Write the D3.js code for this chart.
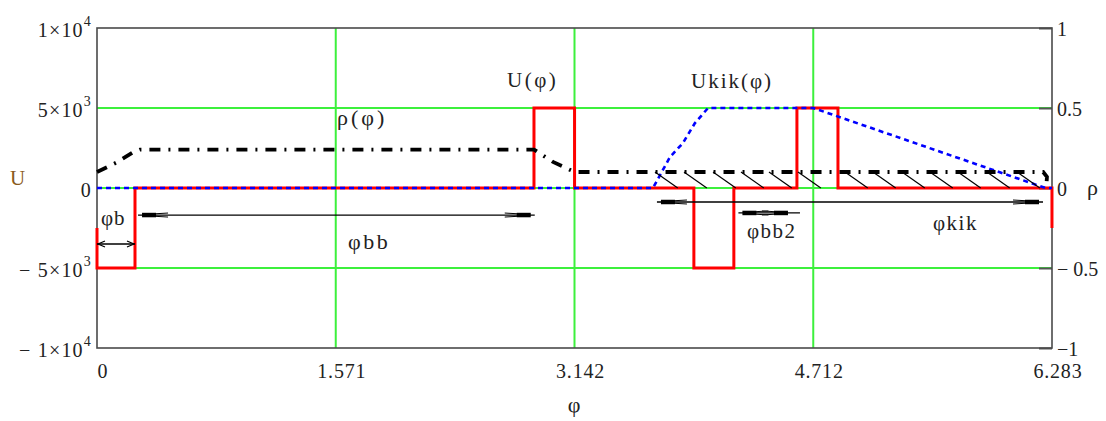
<!DOCTYPE html>
<html>
<head>
<meta charset="utf-8">
<script src="https://cdn.jsdelivr.net/npm/d3@7/dist/d3.min.js"></script>
<style>
  html, body { margin: 0; padding: 0; background: #fff; }
  svg { display: block; }
  text { font-family: "Liberation Serif", "Times New Roman", serif; fill: #222; }
</style>
</head>
<body>
<svg id="chart" width="1106" height="421"></svg>
<script>
// U(φ): stepped drive signal, left axis
const uPhi = [0, 0, 0.25, 0.25, 2.875, 2.875, 3.142, 3.142, 3.927, 3.927, 4.19, 4.19, 4.605, 4.605, 4.875, 4.875, 6.283, 6.283];
const uVal = [-2500, -5000, -5000, 0, 0, 5000, 5000, 0, 0, -5000, -5000, 0, 0, 5000, 5000, 0, 0, -2500];

// Ukik(φ): ramp profile, left axis
const ukikPhi = [0, 3.658, 3.77, 3.855, 3.934, 4.02, 4.712, 6.24, 6.283];
const ukikVal = [0, 0, 1940, 2810, 4060, 5000, 5000, 0, 0];

// ρ(φ): right axis
const rhoPhi = [0, 0.13, 0.237, 0.283, 2.875, 3.0, 3.142, 6.225, 6.25, 6.245];
const rhoVal = [0.1, 0.16, 0.223, 0.24, 0.24, 0.163, 0.1, 0.1, 0.07, 0.0];

// start angles of the hatch strokes under ρ on the kik interval
const hatchPhi = [3.671, 3.862, 4.053, 4.237, 4.421, 4.612, 4.921, 5.105, 5.296, 5.480, 5.664, 5.855, 6.053];

// annotated intervals
const spanNames = ["φb", "φbb", "φbb2", "φkik"];
const spanFrom = [0, 0.27, 4.22, 3.684];
const spanTo = [0.25, 2.88, 4.625, 6.224];

// axis ticks
const xTicks = [0, 1.571, 3.142, 4.712, 6.283];
const xTickLabels = ["0", "1.571", "3.142", "4.712", "6.283"];
const uTicks = [10000, 5000, 0, -5000, -10000];
const uTickMant = ["1×10", "5×10", "0", "− 5×10", "− 1×10"];
const uTickExp = ["4", "3", "", "3", "4"];
const rhoTicks = [1, 0.5, 0, -0.5, -1];
const rhoTickLabels = ["1", "0.5", "0", "− 0.5", "−1"];

const svg = d3.select("#chart");
const L = 97, R = 1052, T = 28, B = 348;

const x = d3.scaleLinear().domain([0, 2 * Math.PI]).range([L, R]);
const yU = d3.scaleLinear().domain([-10000, 10000]).range([B, T]);
const yR = d3.scaleLinear().domain([-1, 1]).range([B, T]);

const green = "#3cf03c";

// grid
const grid = svg.append("g");
grid.selectAll("line.gx").data([Math.PI / 2, Math.PI, 3 * Math.PI / 2]).join("line")
  .attr("x1", d => x(d)).attr("x2", d => x(d)).attr("y1", T).attr("y2", B)
  .attr("stroke", green).attr("stroke-width", 2);
grid.selectAll("line.gy").data([5000, 0, -5000]).join("line")
  .attr("x1", L).attr("x2", R).attr("y1", d => yU(d)).attr("y2", d => yU(d))
  .attr("stroke", green).attr("stroke-width", 2);

// bottom axis
const xAxis = svg.append("g").attr("transform", `translate(0,${B})`)
  .call(d3.axisBottom(x).tickValues(xTicks).tickSize(0).tickFormat((d, i) => xTickLabels[i]));
xAxis.select(".domain").remove();
xAxis.selectAll("text").attr("dy", null).attr("y", 30).attr("x", 5.5)
  .style("font-size", "20px").style("letter-spacing", "0.8px")
  .attr("font-family", null).attr("fill", "#222");

// left axis
const uAxis = svg.append("g").attr("transform", `translate(${L},0)`)
  .call(d3.axisLeft(yU).tickValues(uTicks).tickSize(0).tickFormat(() => ""));
uAxis.select(".domain").remove();
uAxis.selectAll(".tick text").each(function (d, i) {
  const t = d3.select(this).attr("dy", null).attr("x", -5).attr("y", 8)
    .attr("text-anchor", "end").attr("font-family", null).attr("fill", "#222")
    .style("font-size", "20px").style("letter-spacing", "1.2px");
  t.append("tspan").text(uTickMant[i]);
  if (uTickExp[i]) {
    t.append("tspan").attr("dy", -11).style("font-size", "14px").text(uTickExp[i]);
  }
});

// right axis
const rAxis = svg.append("g").attr("transform", `translate(${R},0)`)
  .call(d3.axisRight(yR).tickValues(rhoTicks).tickSize(-13).tickPadding(5)
    .tickFormat((d, i) => rhoTickLabels[i]));
rAxis.select(".domain").remove();
rAxis.selectAll(".tick line").attr("stroke", "#555").attr("stroke-width", 2);
rAxis.selectAll(".tick text").attr("dy", null).attr("y", 7)
  .attr("font-family", null).attr("fill", "#222").style("font-size", "20px");

// frame
svg.append("rect").attr("x", L).attr("y", T).attr("width", R - L).attr("height", B - T)
  .attr("fill", "none").attr("stroke", "#4a4a4a").attr("stroke-width", 1.6);

// curves
const lineU = d3.line().x(d => x(d[0])).y(d => yU(d[1]));
const lineR = d3.line().x(d => x(d[0])).y(d => yR(d[1]));

svg.append("path").datum(d3.zip(uPhi, uVal)).attr("d", lineU)
  .attr("fill", "none").attr("stroke", "#ff0000").attr("stroke-width", 3);

svg.append("path").datum(d3.zip(ukikPhi, ukikVal)).attr("d", lineU)
  .attr("fill", "none").attr("stroke", "#0000ff").attr("stroke-width", 2.6)
  .attr("stroke-dasharray", "5,4");

svg.append("path").datum(d3.zip(rhoPhi, rhoVal)).attr("d", lineR)
  .attr("fill", "none").attr("stroke", "#000").attr("stroke-width", 3.8)
  .attr("stroke-dasharray", "11,8,2,8");

// hatch strokes between ρ and the zero line
svg.append("g").selectAll("line").data(hatchPhi).join("line")
  .attr("x1", d => x(d)).attr("y1", yR(0.1))
  .attr("x2", d => x(d + 0.15)).attr("y2", yR(0))
  .attr("stroke", "#000").attr("stroke-width", 1.2);

// interval arrows
const arrows = svg.append("g");
function head(tip, y, dir) {
  arrows.append("line").attr("x1", tip + dir * 4).attr("x2", tip + dir * 18)
    .attr("y1", y).attr("y2", y).attr("stroke", "#000").attr("stroke-width", 4.5);
  [-2, 2].forEach(o => arrows.append("line")
    .attr("x1", tip + dir * 16).attr("x2", tip + dir * 30)
    .attr("y1", y + o * 0.6).attr("y2", y + o)
    .attr("stroke", "#000").attr("stroke-width", 1));
}
function chevron(tip, y, dir) {
  arrows.append("path")
    .attr("d", `M${tip + dir * 7},${y - 3}L${tip},${y}L${tip + dir * 7},${y + 3}`)
    .attr("fill", "none").attr("stroke", "#000").attr("stroke-width", 1.2);
}
const spanY = [-3500, -1690, -1560, -875];
spanNames.forEach((n, i) => {
  const x1 = x(spanFrom[i]), x2 = x(spanTo[i]), y = yU(spanY[i]);
  arrows.append("line").attr("x1", x1).attr("x2", x2).attr("y1", y).attr("y2", y)
    .attr("stroke", "#000").attr("stroke-width", 1.3);
  if (i === 0) { chevron(x1 + 1, y, 1); chevron(x2 - 1, y, -1); }
  else if (i === 2) { head(x1, y, 1); head(x2 - 8, y, -1); }
  else { head(x1, y, 1); head(x2, y, -1); }
});

// labels
const lab = (t, px, py, size, ls, anchor) => svg.append("text")
  .attr("x", px).attr("y", py).attr("text-anchor", anchor || "start")
  .style("font-size", size + "px").style("letter-spacing", (ls || 0) + "px").text(t);

lab("U(φ)", 507, 87, 21, 2.5);
lab("ρ(φ)", 337, 125, 22, 3);
lab("Ukik(φ)", 691, 88, 21, 2);
lab(spanNames[0], 101, 225, 21, 1);
lab(spanNames[1], 348, 249, 22, 2.5);
lab(spanNames[2], 747, 238, 21, 1.5);
lab(spanNames[3], 933, 230, 21, 1.5);

lab("U", 10, 185, 21, 0).style("fill", "#8a5a20");
lab("ρ", 1087, 195, 22, 0);
lab("φ", 574, 412, 22, 0, "middle");
</script>
</body>
</html>
